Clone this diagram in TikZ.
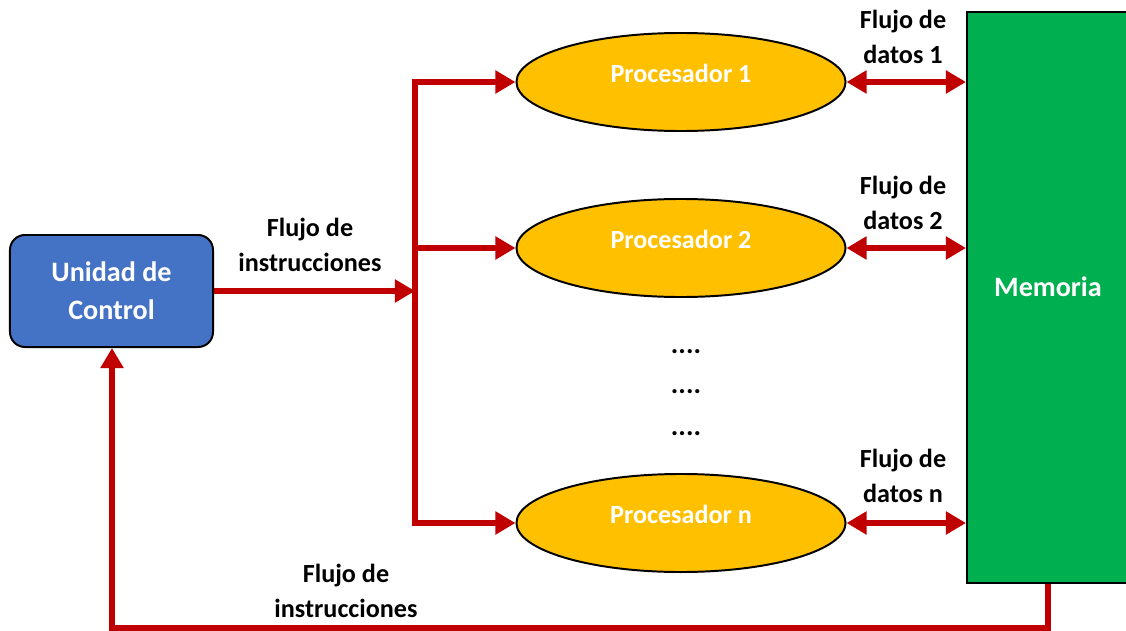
\documentclass[tikz,border=0pt]{standalone}
\usepackage{fontspec}
\setmainfont{Carlito}
\usetikzlibrary{arrows.meta,shapes.geometric}
\definecolor{rojo}{HTML}{C00000}
\definecolor{amarillo}{HTML}{FFC000}
\definecolor{verde}{HTML}{00B050}
\definecolor{azul}{HTML}{4472C4}
\begin{document}
\begin{tikzpicture}[x=0.025cm, y=-0.025cm,
	flujo/.style={rojo, line width=0.15cm, -{Triangle[length=0.5cm, width=0.55cm]}},
	doble/.style={flujo, {Triangle[length=0.5cm, width=0.55cm]}-{Triangle[length=0.5cm, width=0.55cm]}},
	proc/.style={ellipse, draw=black, line width=1.4pt, fill=amarillo, minimum width=8.225cm, minimum height=2.45cm, inner sep=0pt, text depth=0.45cm, text=white, font=\fontsize{18.6}{22}\bfseries},
	etiqueta/.style={align=center, font=\fontsize{18.6}{24.8}\bfseries}]
	\useasboundingbox (0,0) rectangle (1126,631);
	
	% control unit
	\node[draw=black, line width=1.4pt, fill=azul, rounded corners=0.375cm, minimum width=5.075cm, minimum height=2.8cm, align=center, text=white, font=\fontsize{20}{27}\bfseries] (uc) at (111.5,291) {Unidad de\\Control};
	
	% memory
	\node[draw=black, line width=1.4pt, fill=verde, minimum width=4.15cm, minimum height=14.275cm] (mem) at (1050,297.5) {};
	\node[text=white, font=\fontsize{20}{24}\bfseries] (memtxt) at (1048,287) {Memoria};
	
	% processors
	\node[proc] (p1) at (681,82) {Procesador 1};
	\node[proc] (p2) at (681,248) {Procesador 2};
	\node[proc] (pn) at (681,523) {Procesador n};
	\foreach \y [count=\i] in {352, 392, 434}
	\node[font=\fontsize{20}{22}\bfseries] (dots\i) at (686,\y) {....};
	
	% instruction bus
	\coordinate (bus) at (415,0);
	\draw[rojo, line width=0.15cm, line cap=rect] (p1.west -| bus) -- (pn.west -| bus);
	\draw[flujo] (uc.east) -- (uc.east -| bus);
	\foreach \p in {p1, p2, pn}
	\draw[flujo] (\p.west -| bus) -- (\p.west);
	\node[etiqueta] (ins1) at (310,245) {Flujo de\\instrucciones};
	
	% data flows
	\foreach \p/\n/\y in {p1/1/37, p2/2/203, pn/n/476}
	{
		\draw[doble] (\p.east) -- (\p.east -| mem.west);
		\node[etiqueta] (dat\n) at (903,\y) {Flujo de\\datos \n};
	}
	
	% feedback to control
	\coordinate (fbr) at (1048,628);
	\coordinate (fbl) at (112,628);
	\draw[flujo, line join=miter] (mem.south -| fbr) -- (fbr) -- (fbl) -- (uc.south -| fbl);
	\node[etiqueta] (ins2) at (346,591) {Flujo de\\instrucciones};
\end{tikzpicture}
\end{document}
